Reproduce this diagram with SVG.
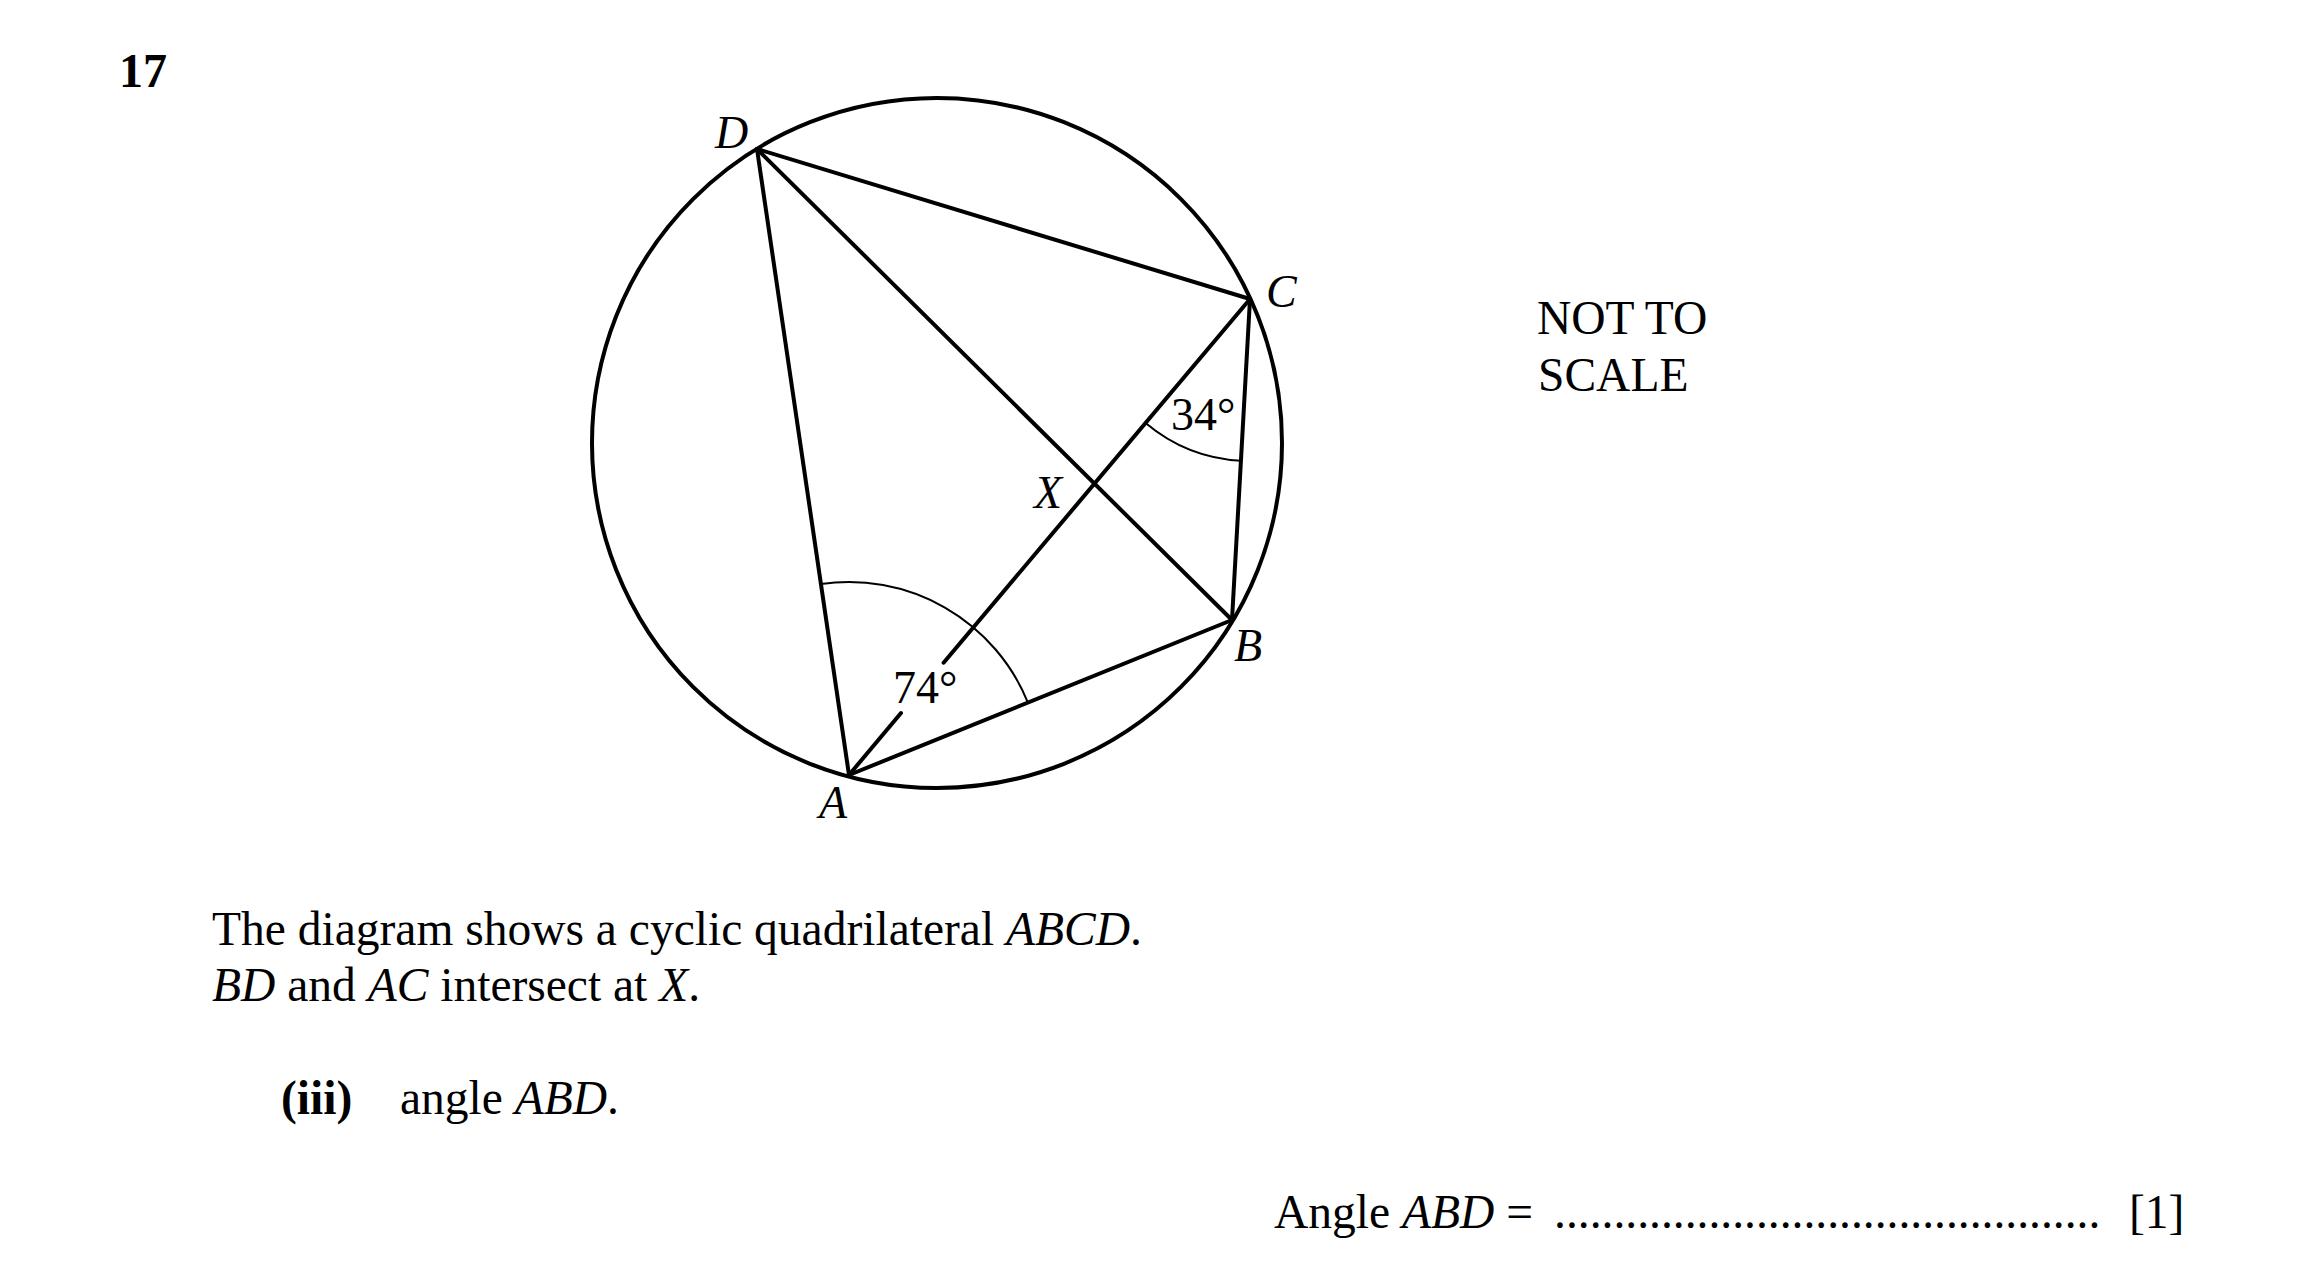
<svg xmlns="http://www.w3.org/2000/svg" width="2299" height="1274" viewBox="0 0 2299 1274">
<style>
text{font-family:"Liberation Serif","Times New Roman",serif;font-size:47.5px;fill:#000}
.it{font-style:italic}
.b{font-weight:bold}
.lbl{font-size:46px;font-style:italic}
.deg{font-size:46px}
.heavy{stroke:#000;stroke-width:4;fill:none;stroke-linecap:round}
.thin{stroke:#000;stroke-width:2;fill:none}
</style>
<rect width="2299" height="1274" fill="#fff"/>
<text class="b" x="119" y="87" style="font-size:48px">17</text>
<g id="circle"><circle class="heavy" cx="937" cy="443" r="345"/></g>
<g id="connectors">
<line class="heavy" x1="849" y1="775" x2="1232" y2="620"/>
<line class="heavy" x1="1232" y1="620" x2="1250" y2="299"/>
<line class="heavy" x1="1250" y1="299" x2="757" y2="149"/>
<line class="heavy" x1="757" y1="149" x2="849" y2="775"/>
<line class="heavy" x1="757" y1="149" x2="1232" y2="620"/>
<line class="heavy" x1="849" y1="775" x2="901" y2="713"/>
<line class="heavy" x1="943.6" y1="662.7" x2="1250" y2="299"/>
<path class="thin" d="M 820.9 584.1 A 193 193 0 0 1 1027.9 702.6"/>
<path class="thin" d="M 1145.6 422.9 A 162 162 0 0 0 1240.9 460.7"/>
</g>
<g id="A"><text class="lbl" x="819" y="818">A</text></g>
<g id="B"><text class="lbl" x="1234" y="661">B</text></g>
<g id="C"><text class="lbl" x="1266" y="307">C</text></g>
<g id="D"><text class="lbl" x="715" y="148">D</text></g>
<g id="X"><text class="lbl" x="1034" y="508">X</text></g>
<text class="deg" x="1171" y="430">34°</text>
<text class="deg" x="893" y="703">74°</text>
<text x="1537" y="334">NOT TO</text>
<text x="1538" y="391">SCALE</text>
<text x="212" y="945">The diagram shows a cyclic quadrilateral <tspan class="it">ABCD</tspan>.</text>
<text x="212" y="1001"><tspan class="it">BD</tspan> and <tspan class="it">AC</tspan> intersect at <tspan class="it">X</tspan>.</text>
<text x="281" y="1114"><tspan class="b">(iii)</tspan></text>
<text x="400" y="1114">angle <tspan class="it">ABD</tspan>.</text>
<text x="1274" y="1228">Angle <tspan class="it">ABD</tspan> =</text>
<text x="1554" y="1228">..............................................</text>
<text x="2129" y="1228">[1]</text>
</svg>
